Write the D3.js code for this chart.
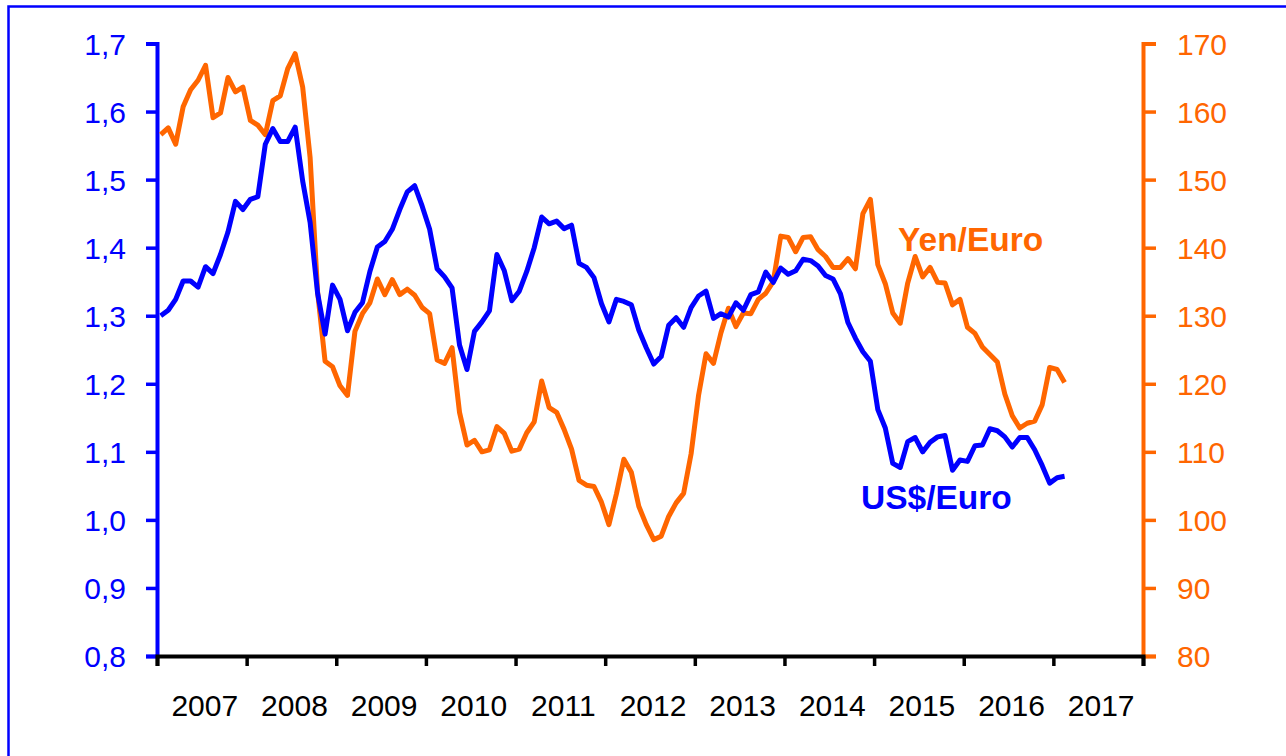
<!DOCTYPE html>
<html>
<head>
<meta charset="utf-8">
<script src="https://cdn.jsdelivr.net/npm/d3@7"></script>
<style>
  html, body { margin: 0; padding: 0; background: #fff; }
  svg { display: block; }
</style>
</head>
<body>
<svg id="chart" width="1286" height="756"></svg>
<script>
// Monthly data, Jan 2007 – Feb 2017
const startYear = 2007;
const usdEuro = [
  1.300, 1.308, 1.324, 1.351, 1.351, 1.342, 1.372, 1.362, 1.390, 1.423, 1.468, 1.456,
  1.471, 1.475, 1.552, 1.575, 1.556, 1.556, 1.577, 1.498, 1.437, 1.333, 1.273, 1.345,
  1.324, 1.278, 1.305, 1.319, 1.365, 1.401, 1.409, 1.427, 1.456, 1.482, 1.491, 1.461,
  1.427, 1.369, 1.357, 1.341, 1.257, 1.221, 1.277, 1.291, 1.307, 1.390, 1.366, 1.322,
  1.336, 1.365, 1.400, 1.445, 1.435, 1.439, 1.428, 1.433, 1.377, 1.371, 1.356, 1.318,
  1.291, 1.324, 1.321, 1.316, 1.279, 1.253, 1.229, 1.240, 1.286, 1.297, 1.283, 1.312,
  1.329, 1.336, 1.296, 1.303, 1.298, 1.319, 1.308, 1.331, 1.335, 1.364, 1.349, 1.370,
  1.361, 1.366, 1.383, 1.381, 1.373, 1.359, 1.354, 1.332, 1.290, 1.267, 1.247, 1.233,
  1.162, 1.135, 1.083, 1.077, 1.115, 1.121, 1.100, 1.114, 1.122, 1.124, 1.073, 1.088,
  1.086, 1.109, 1.110, 1.134, 1.131, 1.122, 1.107, 1.121, 1.121, 1.103, 1.080, 1.054,
  1.062, 1.064
];
const yenEuro = [
  156.6, 157.6, 155.2, 160.7, 163.2, 164.6, 166.8, 159.1, 159.8, 165.0, 162.9, 163.6,
  158.7, 158.0, 156.6, 161.6, 162.3, 166.3, 168.5, 163.6, 153.2, 133.5, 123.3, 122.5,
  119.7, 118.3, 127.7, 130.3, 131.9, 135.4, 133.1, 135.3, 133.1, 133.9, 133.0, 131.2,
  130.3, 123.5, 123.0, 125.3, 115.8, 111.0, 111.7, 110.0, 110.3, 113.7, 112.7, 110.1,
  110.4, 112.8, 114.4, 120.4, 116.5, 115.8, 113.3, 110.4, 105.8, 105.1, 104.9, 102.6,
  99.3, 103.8, 108.9, 107.0, 102.0, 99.3, 97.1, 97.6, 100.5, 102.5, 103.9, 109.7,
  118.3, 124.4, 123.0, 127.5, 131.1, 128.4, 130.4, 130.3, 132.4, 133.3, 135.0, 141.7,
  141.5, 139.4, 141.5, 141.6, 139.7, 138.7, 137.1, 137.1, 138.4, 136.9, 145.0, 147.1,
  137.5, 134.7, 130.4, 128.9, 134.8, 138.7, 135.7, 137.1, 134.9, 134.8, 131.6, 132.4,
  128.3, 127.4, 125.4, 124.3, 123.2, 118.5, 115.3, 113.5, 114.2, 114.5, 116.9, 122.4,
  122.1, 120.2
];
const yearLabels = ["2007","2008","2009","2010","2011","2012","2013","2014","2015","2016","2017"];
const leftTicks = [0.8, 0.9, 1.0, 1.1, 1.2, 1.3, 1.4, 1.5, 1.6, 1.7];
const rightTicks = [80, 90, 100, 110, 120, 130, 140, 150, 160, 170];
const seriesLabels = ["US$/Euro", "Yen/Euro"];

const BLUE = "#0000ff", ORANGE = "#ff6600";
const svg = d3.select("#chart");
const mLeft = 157, mRight = 1143, mTop = 43.5, mBottom = 656;

// outer frame
svg.append("path")
  .attr("d", `M8.5,760 L8.5,6.5 L1290,6.5`)
  .attr("fill", "none").attr("stroke", BLUE).attr("stroke-width", 2.5);

const x = d3.scaleLinear().domain([0, yearLabels.length * 12]).range([mLeft, mRight]);
const yL = d3.scaleLinear().domain([0.8, 1.7]).range([mBottom, mTop]);
const yR = d3.scaleLinear().domain([80, 170]).range([mBottom, mTop]);

const fontFam = "'Liberation Sans', Arial, sans-serif";

// Left axis
const gL = svg.append("g").attr("transform", `translate(${mLeft},0)`)
  .call(d3.axisLeft(yL).tickValues(leftTicks).tickSize(11).tickPadding(20)
    .tickFormat(d => d3.format(".1f")(d).replace(".", ",")));
gL.select(".domain").attr("stroke", BLUE).attr("stroke-width", 4);
gL.selectAll(".tick line").attr("stroke", BLUE).attr("stroke-width", 3.5);
gL.selectAll(".tick text").attr("fill", BLUE).attr("font-size", 30)
  .attr("font-family", fontFam).attr("dy", "0.35em");

// Right axis
const gR = svg.append("g").attr("transform", `translate(${mRight},0)`)
  .call(d3.axisRight(yR).tickValues(rightTicks).tickSize(13).tickPadding(21));
gR.select(".domain").attr("stroke", ORANGE).attr("stroke-width", 4);
gR.selectAll(".tick line").attr("stroke", ORANGE).attr("stroke-width", 3.5);
gR.selectAll(".tick text").attr("fill", ORANGE).attr("font-size", 30)
  .attr("font-family", fontFam).attr("dy", "0.35em");

// Bottom axis
const yearTicks = d3.range(0, yearLabels.length * 12 + 1, 12);
const gB = svg.append("g").attr("transform", `translate(0,${mBottom})`)
  .call(d3.axisBottom(x).tickValues(yearTicks).tickSize(10).tickFormat(""));
gB.select(".domain").attr("stroke", "#000").attr("stroke-width", 4);
gB.selectAll(".tick line").attr("stroke", "#000").attr("stroke-width", 3.5);
gB.selectAll(".year").data(yearLabels).enter().append("text")
  .attr("x", (d, i) => x(i * 12 + 6) + 3)
  .attr("y", 60)
  .attr("text-anchor", "middle")
  .attr("font-size", 30).attr("font-family", fontFam).attr("fill", "#000")
  .text(d => d);

// lines
const lineL = d3.line().x((d, i) => x(i + 0.5)).y(d => yL(d)).curve(d3.curveLinear);
const lineR = d3.line().x((d, i) => x(i + 0.5)).y(d => yR(d)).curve(d3.curveLinear);

svg.append("path").datum(yenEuro)
  .attr("d", lineR).attr("fill", "none").attr("stroke", ORANGE)
  .attr("stroke-width", 5).attr("stroke-linejoin", "round");
svg.append("path").datum(usdEuro)
  .attr("d", lineL).attr("fill", "none").attr("stroke", BLUE)
  .attr("stroke-width", 5).attr("stroke-linejoin", "round");

// series labels
svg.append("text").attr("x", 861).attr("y", 509)
  .attr("font-size", 33.5).attr("font-weight", "bold").attr("font-family", fontFam)
  .attr("fill", BLUE).text(seriesLabels[0]);
svg.append("text").attr("x", 898).attr("y", 251)
  .attr("font-size", 33.5).attr("font-weight", "bold").attr("font-family", fontFam)
  .attr("fill", ORANGE).text(seriesLabels[1]);
</script>
</body>
</html>
